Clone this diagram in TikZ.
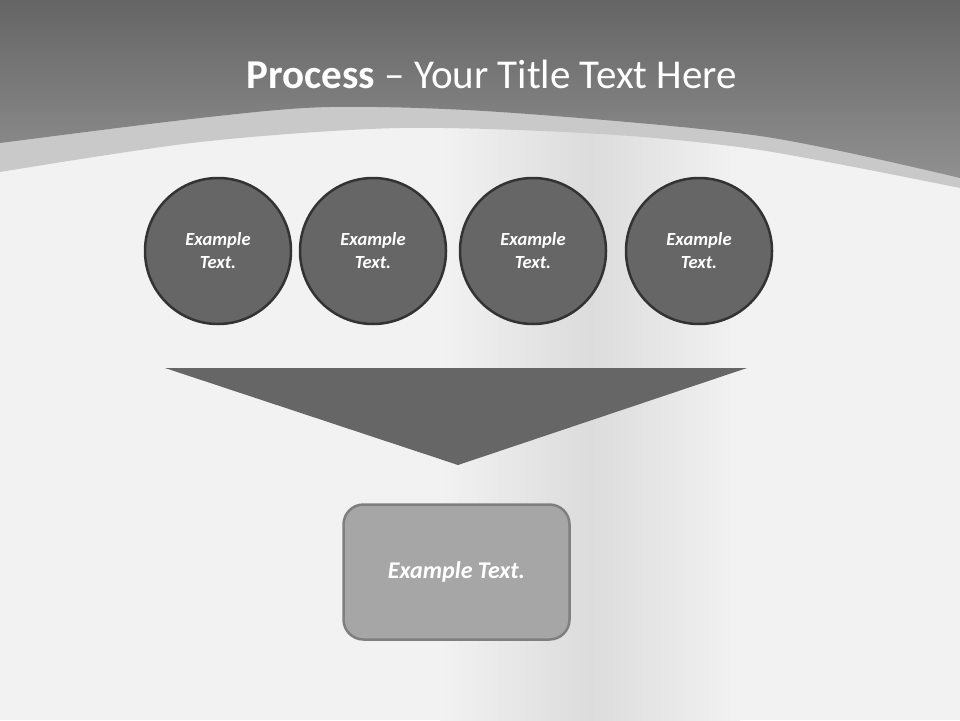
\documentclass[tikz,border=0pt]{standalone}
\usepackage{fontspec}
\setmainfont{Carlito}
\usetikzlibrary{calc,positioning}
\definecolor{headtop}{HTML}{656565}
\definecolor{headbottom}{HTML}{909090}
\definecolor{bandgray}{HTML}{C9C9C9}
\definecolor{bodygray}{HTML}{F2F2F2}
\definecolor{shadowgray}{HTML}{DCDCDC}
\definecolor{stepfill}{HTML}{666666}
\definecolor{stepline}{HTML}{333333}
\definecolor{boxfill}{HTML}{A6A6A6}
\definecolor{boxline}{HTML}{7F7F7F}

\begin{document}
\begin{tikzpicture}[x=1pt, y=-1pt]
        \tikzstyle{stepcircle}=[circle, draw=stepline, line width=2.5pt, fill=stepfill, minimum size=146pt, inner sep=0pt, align=center, text=white, font=\fontsize{18.5}{23}\selectfont\bfseries\itshape]
        \tikzstyle{resultbox}=[rectangle, rounded corners=20pt, draw=boxline, line width=2.5pt, fill=boxfill, minimum width=226pt, minimum height=135pt, text=white, font=\fontsize{24}{28}\selectfont\bfseries\itshape]

        % Page and background
        \useasboundingbox (0,0) rectangle (960,720);
        \fill[bodygray] (0,0) rectangle (960,720);
        \shade[left color=bodygray, right color=bodygray, middle color=shadowgray] (440,120) rectangle (740,720);

        % Header band with its light stripe
        \fill[bandgray] (0,0) -- plot[smooth] coordinates {(0,172) (200,142) (400,128) (600,134) (760,150) (960,188)} -- (960,0) -- cycle;
        \shade[top color=headtop, bottom color=headbottom] (0,0) -- plot[smooth] coordinates {(0,143) (200,118) (330,107) (500,112) (760,136) (960,178)} -- (960,0) -- cycle;

        % Title
        \node[anchor=base, text=white, font=\fontsize{41}{48}\selectfont] (title) at (492,88) {\textbf{Process} -- Your Title Text Here};

        % Circles
        \node[stepcircle] (c1) at (218,251) {Example\\Text.};
        \node[stepcircle] (c2) at (373,251) {Example\\Text.};
        \node[stepcircle] (c3) at (533,251) {Example\\Text.};
        \node[stepcircle] (c4) at (699,251) {Example\\Text.};

        % Funnel
        \coordinate (funnelL) at (165,368);
        \coordinate (funnelR) at (747,368);
        \coordinate (funnelT) at (458,465);
        \fill[stepfill] (funnelL) -- (funnelR) -- (funnelT) -- cycle;

        % Result
        \node[resultbox] (result) at (456.5,572) {Example Text.};
    \end{tikzpicture}
\end{document}
